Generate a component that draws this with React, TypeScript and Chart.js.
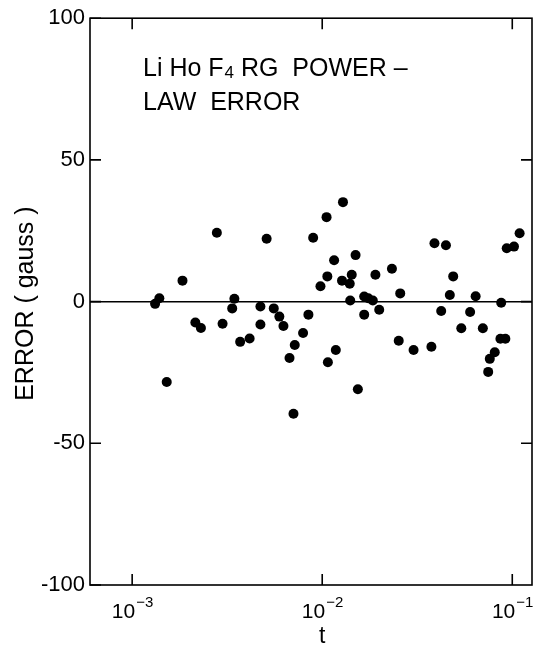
import React, { useEffect, useRef } from "react";
import { Chart, registerables } from "chart.js";

Chart.register(...registerables);

// Reduced temperature t (log axis) and error in gauss
const tValues = [
  0.00132, 0.00139, 0.00152, 0.00184, 0.00215, 0.0023, 0.00279, 0.00299, 0.00336, 0.00345,
  0.0037, 0.00415, 0.00473, 0.00473, 0.0051, 0.00556, 0.00595, 0.00625, 0.00673, 0.00717,
  0.00793, 0.00846, 0.00896, 0.00979, 0.01054, 0.01064, 0.01071, 0.01155, 0.01179, 0.01271,
  0.01286, 0.01396, 0.01404, 0.0143, 0.01498, 0.0154, 0.00706, 0.01663, 0.01663, 0.01747,
  0.01846, 0.01905, 0.01995, 0.02327, 0.02527, 0.02573, 0.03025, 0.03754, 0.03896, 0.04227,
  0.04477, 0.04693, 0.04889, 0.05393, 0.06, 0.06416, 0.07001, 0.0747, 0.07616, 0.08087,
  0.08661, 0.09196, 0.08745, 0.09351, 0.1021, 0.1093,
];
const errorValues = [
  -0.8, 1.2, -28.4, 7.4, -7.4, -9.3, 24.3, -7.8, -2.4, 1.0,
  -14.2, -13.0, -1.7, -8.1, 22.2, -2.4, -5.3, -8.6, -19.9, -15.3,
  -11.1, -4.6, 22.5, 5.4, 29.8, 8.9, -21.4, 14.6, -17.1, 7.4,
  35.1, 6.3, 0.4, 9.5, 16.4, -30.9, -39.6, 1.8, -4.6, 1.2,
  0.4, 9.5, -2.9, 11.6, -13.8, 2.9, -17.1, -15.9, 20.6, -3.3,
  19.9, 2.3, 8.9, -9.4, -3.7, 1.9, -9.4, -24.8, -20.2, -17.9,
  -13.1, -13.1, -0.4, 18.8, 19.4, 24.1,
];
const xTickValues = [0.001, 0.01, 0.1];
const xTickExponents = ["-3", "-2", "-1"];
const yTickValues = [100, 50, 0, -50, -100];
const rightTickValues = [50, 0, -50];

const FONT = "'Liberation Sans', Arial, sans-serif";

const framePlugin = {
  id: "frame",
  afterDraw(chart: any) {
    const { ctx, chartArea: a, scales } = chart;
    const xs = scales.x;
    const ys = scales.y;
    ctx.save();
    ctx.strokeStyle = "#000";
    ctx.fillStyle = "#000";
    ctx.lineWidth = 1.6;
    ctx.strokeRect(a.left, a.top, a.right - a.left, a.bottom - a.top);
    const len = 11;
    ctx.beginPath();
    xTickValues.forEach((v) => {
      const px = xs.getPixelForValue(v);
      ctx.moveTo(px, a.bottom);
      ctx.lineTo(px, a.bottom - len);
      ctx.moveTo(px, a.top);
      ctx.lineTo(px, a.top + len);
    });
    yTickValues.forEach((v) => {
      const py = ys.getPixelForValue(v);
      ctx.moveTo(a.left, py);
      ctx.lineTo(a.left + len, py);
    });
    rightTickValues.forEach((v) => {
      const py = ys.getPixelForValue(v);
      ctx.moveTo(a.right, py);
      ctx.lineTo(a.right - len, py);
    });
    ctx.stroke();

    // x tick labels with superscripts
    xTickValues.forEach((v, i) => {
      const px = xs.getPixelForValue(v);
      ctx.font = `21px ${FONT}`;
      const base = "10";
      const wb = ctx.measureText(base).width;
      const start = px - wb + 3;
      ctx.textAlign = "left";
      ctx.textBaseline = "alphabetic";
      ctx.fillText(base, start, a.bottom + 33);
      ctx.font = `15px ${FONT}`;
      const exp = xTickExponents[i].replace("-", "\u2212");
      ctx.fillText(exp, start + wb + 1, a.bottom + 22);
    });

    // x title
    ctx.font = `23px ${FONT}`;
    ctx.textAlign = "center";
    ctx.fillText("t", xs.getPixelForValue(0.01), a.bottom + 58);

    // y title
    ctx.save();
    ctx.translate(33, (a.top + a.bottom) / 2 + 2);
    ctx.rotate(-Math.PI / 2);
    ctx.font = `25px ${FONT}`;
    ctx.textAlign = "center";
    ctx.textBaseline = "alphabetic";
    ctx.fillText("ERROR ( gauss )", 0, 0);
    ctx.restore();

    // annotation
    ctx.textAlign = "left";
    ctx.font = `25px ${FONT}`;
    let x = a.left + 53;
    const y1 = a.top + 58;
    const part1 = "Li Ho F";
    ctx.fillText(part1, x, y1);
    x += ctx.measureText(part1).width;
    ctx.font = `17px ${FONT}`;
    ctx.fillText("4", x + 1, y1 + 2);
    x += ctx.measureText("4").width + 1;
    ctx.font = `25px ${FONT}`;
    ctx.fillText(" RG  POWER \u2013", x, y1);
    ctx.fillText("LAW  ERROR", a.left + 53, y1 + 34);
    ctx.restore();
  },
};

export default function App() {
  const ref = useRef<HTMLCanvasElement | null>(null);
  useEffect(() => {
    if (!ref.current) return;
    const points = tValues.map((t, i) => ({ x: t, y: errorValues[i] }));
    const chart = new Chart(ref.current, {
      type: "scatter",
      data: {
        datasets: [
          {
            data: points,
            pointRadius: 5,
            pointHoverRadius: 5,
            backgroundColor: "#000",
            borderWidth: 0,
          },
        ],
      },
      options: {
        responsive: false,
        animation: false,
        layout: { padding: { top: 14, right: 16, left: 0, bottom: 0 } },
        plugins: { legend: { display: false }, tooltip: { enabled: false } },
        scales: {
          x: {
            type: "logarithmic",
            min: 0.000632,
            max: 0.127,
            grid: { display: false },
            border: { display: false },
            ticks: { display: false },
            afterFit: (s: any) => {
              s.height = 71;
            },
          },
          y: {
            min: -100,
            max: 100,
            afterBuildTicks: (s: any) => {
              s.ticks = yTickValues.map((v) => ({ value: v }));
            },
            grid: {
              drawTicks: false,
              lineWidth: 1.4,
              color: (c: any) => (c.tick && c.tick.value === 0 ? "#000" : "rgba(0,0,0,0)"),
            },
            border: { display: false },
            ticks: {
              color: "#000",
              padding: 5,
              font: { size: 22, family: FONT },
              callback: (v: any) => (Number(v) < 0 ? "-" + Math.abs(Number(v)) : String(v)),
            },
            afterFit: (s: any) => {
              s.width = 90;
            },
          },
        },
      },
      plugins: [framePlugin],
    });
    return () => chart.destroy();
  }, []);
  return (
    <div style={{ position: "absolute", left: 0, top: 0, background: "#fff" }}>
      <canvas ref={ref} width={548} height={656} style={{ display: "block" }} />
    </div>
  );
}
